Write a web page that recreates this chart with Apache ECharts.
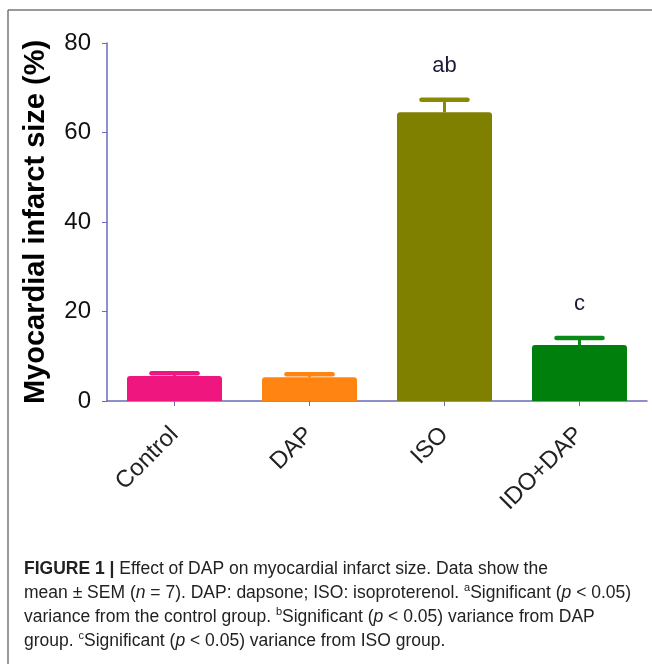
<!DOCTYPE html>
<html>
<head>
<meta charset="utf-8">
<script src="https://cdn.jsdelivr.net/npm/echarts@6/dist/echarts.min.js"></script>
<style>
  html, body { margin: 0; padding: 0; background: #fff; }
  #chart { width: 652px; height: 664px; }
</style>
</head>
<body>
<div id="chart"></div>
<script>
const categories = ['Control', 'DAP', 'ISO', 'IDO+DAP'];
const means = [5.6, 5.3, 64.5, 12.5];
const sems = [0.6, 0.7, 2.8, 1.6];
const sigLabels = ['', '', 'ab', 'c'];
const yTicks = [0, 20, 40, 60, 80];
const barColors = ['#F0167F', '#FF8412', '#7F7F00', '#007F0D'];
const capColors = ['#F0167F', '#FF8412', '#8A8A00', '#0A8A18'];
const yAxisTitle = 'Myocardial infarct size (%)';

const axisColor = '#6a6ab8';
const FONT = 'Liberation Sans, Arial, sans-serif';

const chart = echarts.init(document.getElementById('chart'), null, { renderer: 'canvas' });

const CF = 17.5;
const captionRich = {
  b: { fontFamily: FONT, fontSize: CF, fontWeight: 'bold', color: '#111' },
  n: { fontFamily: FONT, fontSize: CF, color: '#222' },
  i: { fontFamily: FONT, fontSize: CF, fontStyle: 'italic', color: '#222' },
  s: { fontFamily: FONT, fontSize: 11, color: '#222', verticalAlign: 'top', lineHeight: 22 }
};
const captionLines = [
  '{b|FIGURE 1 |}{n| Effect of DAP on myocardial infarct size. Data show the}',
  '{n|mean ± SEM (}{i|n}{n| = 7). DAP: dapsone; ISO: isoproterenol. }{s|a}{n|Significant (}{i|p}{n| < 0.05)}',
  '{n|variance from the control group. }{s|b}{n|Significant (}{i|p}{n| < 0.05) variance from DAP}',
  '{n|group. }{s|c}{n|Significant (}{i|p}{n| < 0.05) variance from ISO group.}'
];
const captionY = [569, 593, 617, 641];

const graphics = [
  { type: 'line', shape: { x1: 8, y1: 10, x2: 652, y2: 10 }, style: { stroke: '#777', lineWidth: 1.5 }, silent: true },
  { type: 'line', shape: { x1: 8, y1: 10, x2: 8, y2: 664 }, style: { stroke: '#777', lineWidth: 1.5 }, silent: true }
];
captionLines.forEach((t, k) => {
  graphics.push({
    type: 'text', left: 24, top: captionY[k] - 11,
    style: { text: t, rich: captionRich, fontFamily: FONT, fontSize: CF, fill: '#222', lineHeight: 22 }
  });
});

const option = {
  backgroundColor: '#fff',
  animation: false,
  grid: { left: 107, right: 5, top: 43, bottom: 263, containLabel: false },
  xAxis: {
    type: 'category',
    data: categories,
    axisLine: { show: true, lineStyle: { color: axisColor, width: 1.5 } },
    axisTick: { show: true, alignWithLabel: true, length: 5, lineStyle: { color: axisColor } },
    axisLabel: { rotate: 45, margin: 30, fontSize: 24, color: '#222', fontFamily: FONT },
    splitLine: { show: false }
  },
  yAxis: {
    type: 'value',
    min: 0, max: 80, interval: 20,
    name: yAxisTitle,
    nameLocation: 'middle',
    nameGap: 57,
    nameTextStyle: { fontSize: 29, fontWeight: 'bold', color: '#000', fontFamily: FONT },
    axisLine: { show: true, lineStyle: { color: axisColor, width: 1.5 } },
    axisTick: { show: true, length: 5, lineStyle: { color: axisColor }, customValues: yTicks },
    axisLabel: { fontSize: 24, color: '#111', margin: 16, fontFamily: FONT, customValues: yTicks },
    splitLine: { show: false }
  },
  series: [
    {
      type: 'bar',
      barWidth: 95,
      data: means.map((v, i) => ({ value: v, itemStyle: { color: barColors[i], borderRadius: [3, 3, 0, 0] } })),
      z: 2
    },
    {
      type: 'custom',
      z: 3,
      data: means.map((v, i) => [i, v, sems[i]]),
      renderItem: function (params, api) {
        const idx = params.dataIndex;
        const i = api.value(0), m = api.value(1), e = api.value(2);
        const p0 = api.coord([i, m]);
        const p1 = api.coord([i, m + e]);
        const col = capColors[idx];
        const children = [
          { type: 'line', shape: { x1: p0[0], y1: p0[1], x2: p1[0], y2: p1[1] }, style: { stroke: col, lineWidth: 3 } },
          { type: 'line', shape: { x1: p1[0] - 23, y1: p1[1], x2: p1[0] + 23, y2: p1[1] }, style: { stroke: col, lineWidth: 4.5, lineCap: 'round' } }
        ];
        if (sigLabels[idx]) {
          children.push({
            type: 'text', x: p1[0], y: p1[1] - 34,
            style: { text: sigLabels[idx], fill: '#1b1b3a', font: '22px ' + FONT, align: 'center', verticalAlign: 'middle' }
          });
        }
        return { type: 'group', children: children };
      }
    }
  ],
  graphic: graphics
};
chart.setOption(option);
</script>
</body>
</html>
